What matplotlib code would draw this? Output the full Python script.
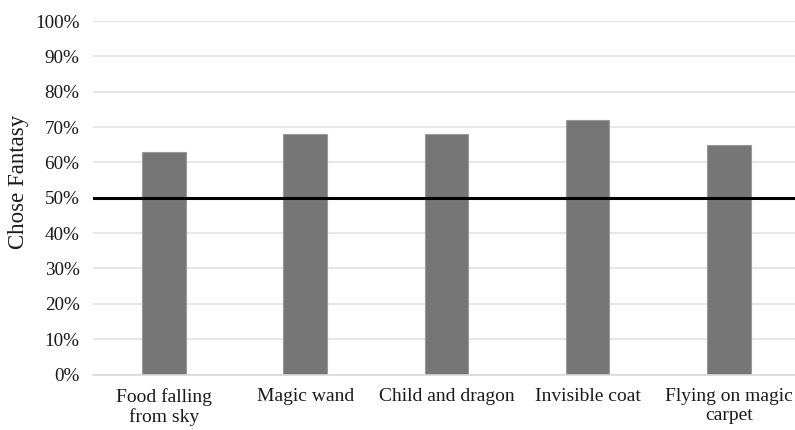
import matplotlib.pyplot as plt
from matplotlib.ticker import PercentFormatter

categories = ['Food falling\nfrom sky', 'Magic wand', 'Child and dragon',
              'Invisible coat', 'Flying on magic\ncarpet']
chose_fantasy = [63, 68, 68, 72, 65]
chance_level = 50

plt.rcParams['font.family'] = ['Liberation Serif', 'DejaVu Serif']

fig = plt.figure(figsize=(7.95, 4.3), dpi=100)
ax = fig.add_axes([0.1175, 0.129, 0.888, 0.822])

x = range(len(categories))
ax.bar(x, chose_fantasy, width=0.31, color='#767676', edgecolor='#9a9a9a',
       linewidth=0.8, zorder=2)
ax.axhline(chance_level, color='black', linewidth=2.2, zorder=3)

ax.set_xlim(-0.5, len(categories) - 0.5)
ax.set_ylim(0, 100)
ax.set_yticks(range(0, 101, 10))
ax.yaxis.set_major_formatter(PercentFormatter(decimals=0))
ax.set_xticks(list(x))
ax.set_xticklabels(categories, fontsize=14, color='#1a1a1a', linespacing=1.1)
ax.tick_params(axis='y', labelsize=13.75, labelcolor='#1a1a1a', length=0, pad=10)
ax.tick_params(axis='x', length=0, pad=10)
ax.grid(axis='y', color='#e3e3e3', linewidth=1.2, zorder=0)
ax.set_ylabel('Chose Fantasy', fontsize=16.5, color='#1a1a1a')
ax.yaxis.set_label_coords(-0.091, 0.546)

for s in ['top', 'right', 'left']:
    ax.spines[s].set_visible(False)
ax.spines['bottom'].set_color('#d9d9d9')
ax.spines['bottom'].set_linewidth(1.2)

fig.savefig('out.png', dpi=100)
